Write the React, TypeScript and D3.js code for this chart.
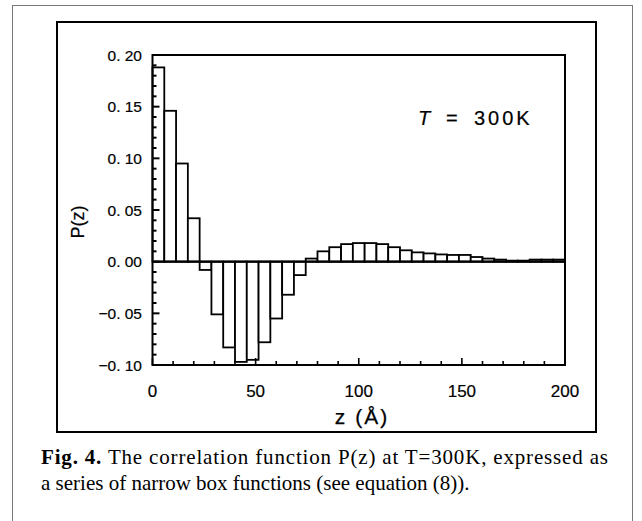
import React, { useEffect, useRef } from 'react';
import * as d3 from 'd3';

// P(z) as narrow boxes, 35 bins from z = 0 to 200 Å
const binCount = 35;
const pValues = [
  0.188, 0.146, 0.095, 0.042, -0.008, -0.051, -0.083, -0.097, -0.095, -0.078,
  -0.055, -0.032, -0.013, 0.003, 0.010, 0.014, 0.017, 0.018, 0.018, 0.017,
  0.014, 0.011, 0.009, 0.008, 0.007, 0.0065, 0.0065, 0.0045, 0.003, 0.002,
  0.001, 0.001, 0.002, 0.002, 0.002,
];
const yTicks = [-0.10, -0.05, 0.00, 0.05, 0.10, 0.15, 0.20];
const xTicks = [0, 50, 100, 150, 200];

export default function App() {
  const svgRef = useRef<SVGSVGElement | null>(null);

  useEffect(() => {
    const svg = d3.select(svgRef.current);
    svg.selectAll('*').remove();

    const x = d3.scaleLinear().domain([0, 200]).range([152.5, 565]);
    const y = d3.scaleLinear().domain([-0.10, 0.20]).range([365, 55]);
    const binW = 200 / binCount;

    // outer frame + inner figure box
    svg.append('rect').attr('x', 12.5).attr('y', 5.5).attr('width', 620).attr('height', 530)
      .attr('fill', 'none').attr('stroke', '#777').attr('stroke-width', 1);
    svg.append('rect').attr('x', 57).attr('y', 22).attr('width', 539).attr('height', 410)
      .attr('fill', 'none').attr('stroke', '#000').attr('stroke-width', 2);

    const g = svg.append('g');

    // bars
    g.selectAll('rect.bar')
      .data(pValues)
      .enter()
      .append('rect')
      .attr('class', 'bar')
      .attr('x', (d, i) => x(i * binW))
      .attr('width', x(binW) - x(0))
      .attr('y', d => y(Math.max(0, d)))
      .attr('height', d => Math.abs(y(d) - y(0)))
      .attr('fill', '#fff')
      .attr('stroke', '#000')
      .attr('stroke-width', 1.8);

    // zero line
    g.append('line')
      .attr('x1', x(0)).attr('x2', x(200))
      .attr('y1', y(0)).attr('y2', y(0))
      .attr('stroke', '#000').attr('stroke-width', 2.4);

    // plot frame
    g.append('rect')
      .attr('x', x(0)).attr('y', y(0.20))
      .attr('width', x(200) - x(0)).attr('height', y(-0.10) - y(0.20))
      .attr('fill', 'none').attr('stroke', '#000').attr('stroke-width', 2);

    // left axis ticks (inward)
    const yMinor = d3.range(-10, 21).map(k => k / 100);
    g.selectAll('line.ytick')
      .data(yMinor)
      .enter()
      .append('line')
      .attr('x1', x(0))
      .attr('x2', d => x(0) + (Math.round(d * 100) % 5 === 0 ? 7 : 4))
      .attr('y1', d => y(d)).attr('y2', d => y(d))
      .attr('stroke', '#000').attr('stroke-width', 2);

    // bottom axis ticks (inward)
    const xMinor = d3.range(0, 201, 10);
    g.selectAll('line.xtick')
      .data(xMinor)
      .enter()
      .append('line')
      .attr('x1', d => x(d)).attr('x2', d => x(d))
      .attr('y1', y(-0.10))
      .attr('y2', d => y(-0.10) - (d % 50 === 0 ? 7 : 4))
      .attr('stroke', '#000').attr('stroke-width', 1.6);

    const tickFont = '"Liberation Sans", Arial, sans-serif';
    const fmt = (v: number) => {
      const s = d3.format('.2f')(Math.abs(v)).replace('.', '. ');
      return (v < 0 ? '\u2212' : '') + s;
    };

    g.selectAll('text.ylab')
      .data(yTicks)
      .enter()
      .append('text')
      .attr('x', 142)
      .attr('y', d => y(d) + 5.5)
      .attr('text-anchor', 'end')
      .attr('font-family', tickFont)
      .attr('font-size', 15.5)
      .attr('stroke', '#000').attr('stroke-width', 0.2)
      .text(d => fmt(d));

    g.selectAll('text.xlab')
      .data(xTicks)
      .enter()
      .append('text')
      .attr('x', d => x(d))
      .attr('y', 397)
      .attr('text-anchor', 'middle')
      .attr('font-family', tickFont)
      .attr('font-size', 17)
      .attr('stroke', '#000').attr('stroke-width', 0.2)
      .text(d => String(d));

    // axis titles
    svg.append('text')
      .attr('x', 362).attr('y', 424)
      .attr('text-anchor', 'middle')
      .attr('font-family', tickFont)
      .attr('font-size', 21)
      .attr('letter-spacing', 2)
      .attr('stroke', '#000').attr('stroke-width', 0.25)
      .text('z (\u00C5)');

    svg.append('text')
      .attr('transform', `translate(84, 222) rotate(-90)`)
      .attr('text-anchor', 'middle')
      .attr('font-family', tickFont)
      .attr('font-size', 18)
      .attr('stroke', '#000').attr('stroke-width', 0.2)
      .text('P(z)');

    // annotation
    const ann = svg.append('text')
      .attr('y', 125)
      .attr('font-family', tickFont)
      .attr('font-size', 20)
      .attr('stroke', '#000').attr('stroke-width', 0.2);
    ann.append('tspan').attr('x', 418).attr('font-style', 'italic').text('T');
    ann.append('tspan').attr('x', 446).text('=');
    ann.append('tspan').attr('x', 474).attr('letter-spacing', 3).text('300K');

    // caption
    const capFont = '"Liberation Serif", "Times New Roman", serif';
    const cap1 = svg.append('text')
      .attr('x', 41).attr('y', 464)
      .attr('font-family', capFont)
      .attr('font-size', 21)
      .attr('textLength', 567)
      .attr('lengthAdjust', 'spacing');
    cap1.append('tspan').attr('font-weight', 'bold').text('Fig. 4.');
    cap1.append('tspan').text(' The correlation function P(z) at T=300K, expressed as');

    svg.append('text')
      .attr('x', 41).attr('y', 490)
      .attr('font-family', capFont)
      .attr('font-size', 21)
      .text('a series of narrow box functions (see equation (8)).');
  }, []);

  return (
    <svg
      ref={svgRef}
      width={642}
      height={521}
      style={{ position: 'absolute', left: 0, top: 0, background: '#fff' }}
    />
  );
}
